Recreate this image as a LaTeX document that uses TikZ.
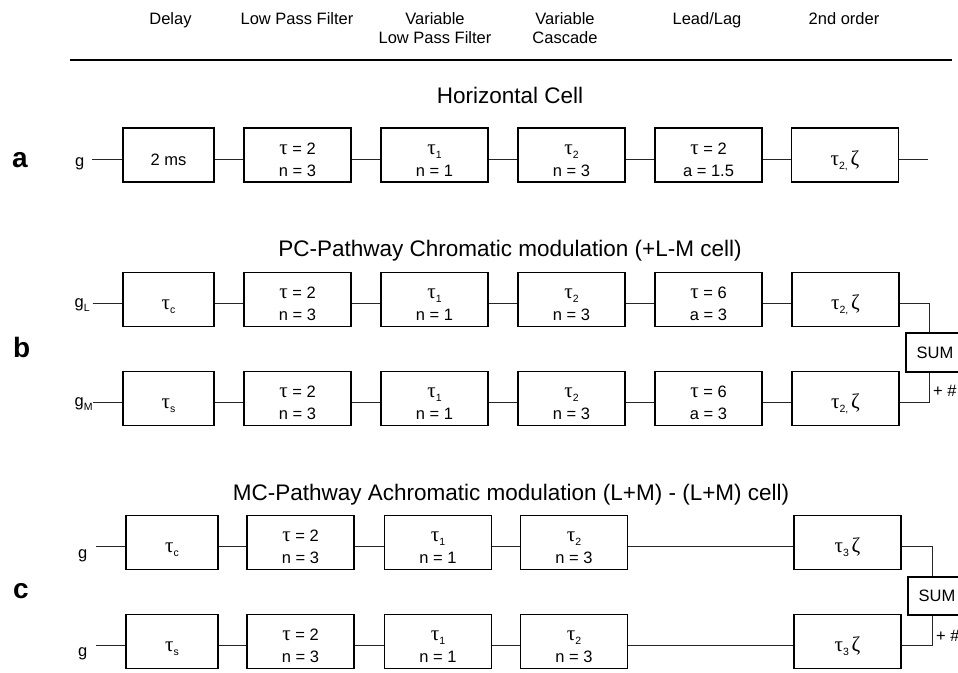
\documentclass[tikz,border=0pt]{standalone}
\usepackage{fontspec}
\setmainfont{Liberation Sans}
\newfontfamily\grk{Liberation Serif}
\newcommand\tu{{\fontsize{21}{22}\selectfont\grk τ}}
\newcommand\zt{{\fontsize{21}{22}\selectfont\grk ζ}}
\newcommand\sbs[1]{\raisebox{-4pt}{\fontsize{10.5}{12}\selectfont #1}}
\newcommand\bt[1]{\raisebox{-10pt}[0pt][0pt]{\begin{tabular}{@{}c@{}}#1\end{tabular}}}
\newcommand\hd[1]{\begin{tabular}[t]{@{}c@{}}#1\end{tabular}}
\begin{document}
\begin{tikzpicture}[x=1pt,y=-1pt,
  blk/.style={draw=black, line width=1.1pt, minimum width=107pt, minimum height=54pt,
    inner sep=0pt, font=\fontsize{16.5}{22}\selectfont},
  dly/.style={blk, minimum width=91pt},
  sumbox/.style={draw=black, line width=1.1pt, minimum width=58pt, minimum height=39pt,
    inner sep=0pt, font=\fontsize{16.5}{20}\selectfont},
  conn/.style={line width=1pt, draw=black!85},
  hdr/.style={anchor=base, inner sep=0pt, font=\fontsize{16.5}{19}\selectfont},
  ttl/.style={anchor=base, inner sep=0pt, font=\fontsize{22.5}{26}\selectfont},
  lab/.style={anchor=base west, inner sep=0pt, font=\fontsize{28}{30}\selectfont\bfseries},
  inp/.style={anchor=base west, inner sep=0pt, font=\fontsize{16.5}{20}\selectfont},
  sgn/.style={anchor=base west, inner sep=0pt, font=\fontsize{16.5}{20}\selectfont}
]
\useasboundingbox (0,0) rectangle (958,672);
\clip (0,0) rectangle (958,672);

% header
\node[hdr] (h1) at (170.5,24.5) {\hd{Delay}};
\node[hdr] (h2) at (297,24.5) {\hd{Low Pass Filter}};
\node[hdr] (h3) at (435,24.5) {\hd{Variable\\Low Pass Filter}};
\node[hdr] (h4) at (565,24.5) {\hd{Variable\\Cascade}};
\node[hdr] (h5) at (707,24.5) {\hd{Lead/Lag}};
\node[hdr] (h6) at (844,24.5) {\hd{2nd order}};
\draw[line width=1.5pt] (70,60) -- (952,60);

% titles
\node[ttl] (ta) at (510,103) {Horizontal Cell};
\node[ttl] (tb) at (510,256) {PC-Pathway Chromatic modulation (+L-M cell)};
\node[ttl] (tc) at (511,500) {MC-Pathway Achromatic modulation (L+M) - (L+M) cell)};

% panel labels
\node[lab] (la) at (12,167) {a};
\node[lab] (lb) at (13,357) {b};
\node[lab] (lc) at (13,598) {c};

% ---------- row a ----------
\node[inp] (ga) at (75,166.5) {g};
\coordinate (ia) at (92,159);
\node[dly] (a1) at (168.5,155) {\bt{2 ms}};
\node[blk] (a2) at (297.5,155) {\bt{\tu{} = 2\\n = 3}};
\node[blk] (a3) at (434.5,155) {\bt{\tu\sbs{1}\\n = 1}};
\node[blk] (a4) at (571.5,155) {\bt{\tu\sbs{2}\\n = 3}};
\node[blk] (a5) at (708.5,155) {\bt{\tu{} = 2\\a = 1.5}};
\node[blk] (a6) at (845,155) {\bt{\tu\sbs{2,}\,\zt}};
\coordinate (oa) at (928,159);
\draw[conn] (ia) -- ([yshift=-4pt]a1.west);
\draw[conn] ([yshift=-4pt]a1.east) -- ([yshift=-4pt]a2.west);
\draw[conn] ([yshift=-4pt]a2.east) -- ([yshift=-4pt]a3.west);
\draw[conn] ([yshift=-4pt]a3.east) -- ([yshift=-4pt]a4.west);
\draw[conn] ([yshift=-4pt]a4.east) -- ([yshift=-4pt]a5.west);
\draw[conn] ([yshift=-4pt]a5.east) -- ([yshift=-4pt]a6.west);
\draw[conn] ([yshift=-4pt]a6.east) -- (oa);

% ---------- row b ----------
\node[inp] (gL) at (74.5,307.5) {g\sbs{L}};
\node[inp] (gM) at (74.5,406.5) {g\sbs{M}};
\coordinate (ib1) at (92.5,303.5);
\coordinate (ib2) at (92.5,402.5);
\node[dly] (b11) at (168.5,299.5) {\bt{\tu\sbs{c}}};
\node[blk] (b12) at (297.5,299.5) {\bt{\tu{} = 2\\n = 3}};
\node[blk] (b13) at (434.5,299.5) {\bt{\tu\sbs{1}\\n = 1}};
\node[blk] (b14) at (571.5,299.5) {\bt{\tu\sbs{2}\\n = 3}};
\node[blk] (b15) at (708.5,299.5) {\bt{\tu{} = 6\\a = 3}};
\node[blk] (b16) at (845.5,299.5) {\bt{\tu\sbs{2,}\,\zt}};
\node[dly] (b21) at (168.5,398.5) {\bt{\tu\sbs{s}}};
\node[blk] (b22) at (297.5,398.5) {\bt{\tu{} = 2\\n = 3}};
\node[blk] (b23) at (434.5,398.5) {\bt{\tu\sbs{1}\\n = 1}};
\node[blk] (b24) at (571.5,398.5) {\bt{\tu\sbs{2}\\n = 3}};
\node[blk] (b25) at (708.5,398.5) {\bt{\tu{} = 6\\a = 3}};
\node[blk] (b26) at (845.5,398.5) {\bt{\tu\sbs{2,}\,\zt}};
\node[sumbox] (sb) at (935,352.5) {SUM};
\node[sgn] (pb) at (933,396) {+ \#};
\draw[conn] (ib1) -- ([yshift=-4pt]b11.west);
\draw[conn] ([yshift=-4pt]b11.east) -- ([yshift=-4pt]b12.west);
\draw[conn] ([yshift=-4pt]b12.east) -- ([yshift=-4pt]b13.west);
\draw[conn] ([yshift=-4pt]b13.east) -- ([yshift=-4pt]b14.west);
\draw[conn] ([yshift=-4pt]b14.east) -- ([yshift=-4pt]b15.west);
\draw[conn] ([yshift=-4pt]b15.east) -- ([yshift=-4pt]b16.west);
\draw[conn] ([yshift=-4pt]b16.east) -| ([xshift=-6pt]sb.north);
\draw[conn] (ib2) -- ([yshift=-4pt]b21.west);
\draw[conn] ([yshift=-4pt]b21.east) -- ([yshift=-4pt]b22.west);
\draw[conn] ([yshift=-4pt]b22.east) -- ([yshift=-4pt]b23.west);
\draw[conn] ([yshift=-4pt]b23.east) -- ([yshift=-4pt]b24.west);
\draw[conn] ([yshift=-4pt]b24.east) -- ([yshift=-4pt]b25.west);
\draw[conn] ([yshift=-4pt]b25.east) -- ([yshift=-4pt]b26.west);
\draw[conn] ([yshift=-4pt]b26.east) -| ([xshift=-6pt]sb.south);

% ---------- row c ----------
\node[inp] (gc1) at (78,558.5) {g};
\node[inp] (gc2) at (78,656.5) {g};
\coordinate (ic1) at (96,546.5);
\coordinate (ic2) at (96,645.5);
\node[dly, minimum width=92pt] (c11) at (172,542.5) {\bt{\tu\sbs{c}}};
\node[blk] (c12) at (300.5,542.5) {\bt{\tu{} = 2\\n = 3}};
\node[blk] (c13) at (438,542.5) {\bt{\tu\sbs{1}\\n = 1}};
\node[blk] (c14) at (574,542.5) {\bt{\tu\sbs{2}\\n = 3}};
\node[blk] (c16) at (847.5,542.5) {\bt{\tu\sbs{3}\,\zt}};
\node[dly, minimum width=92pt] (c21) at (172,641.5) {\bt{\tu\sbs{s}}};
\node[blk] (c22) at (300.5,641.5) {\bt{\tu{} = 2\\n = 3}};
\node[blk] (c23) at (438,641.5) {\bt{\tu\sbs{1}\\n = 1}};
\node[blk] (c24) at (574,641.5) {\bt{\tu\sbs{2}\\n = 3}};
\node[blk] (c26) at (847.5,641.5) {\bt{\tu\sbs{3}\,\zt}};
\node[sumbox, minimum height=38pt] (sc) at (937,596) {SUM};
\node[sgn] (pc) at (936,641) {+ \#};
\draw[conn] (ic1) -- ([yshift=-4pt]c11.west);
\draw[conn] ([yshift=-4pt]c11.east) -- ([yshift=-4pt]c12.west);
\draw[conn] ([yshift=-4pt]c12.east) -- ([yshift=-4pt]c13.west);
\draw[conn] ([yshift=-4pt]c13.east) -- ([yshift=-4pt]c14.west);
\draw[conn] ([yshift=-4pt]c14.east) -- ([yshift=-4pt]c16.west);
\draw[conn] ([yshift=-4pt]c16.east) -| ([xshift=-5pt]sc.north);
\draw[conn] (ic2) -- ([yshift=-4pt]c21.west);
\draw[conn] ([yshift=-4pt]c21.east) -- ([yshift=-4pt]c22.west);
\draw[conn] ([yshift=-4pt]c22.east) -- ([yshift=-4pt]c23.west);
\draw[conn] ([yshift=-4pt]c23.east) -- ([yshift=-4pt]c24.west);
\draw[conn] ([yshift=-4pt]c24.east) -- ([yshift=-4pt]c26.west);
\draw[conn] ([yshift=-4pt]c26.east) -| ([xshift=-5pt]sc.south);
\end{tikzpicture}
\end{document}
